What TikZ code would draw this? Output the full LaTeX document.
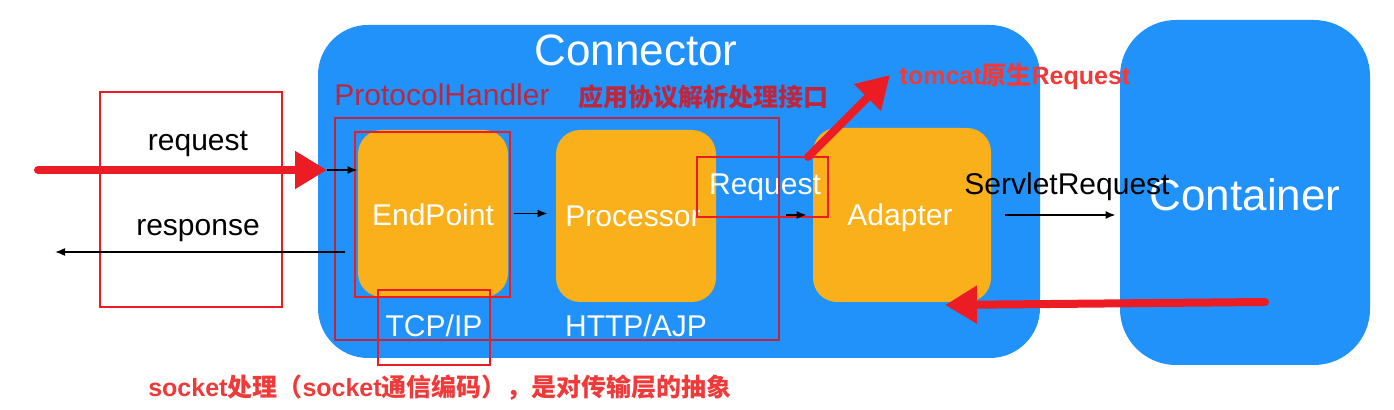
\documentclass[tikz,border=0pt]{standalone}
\usepackage{fontspec}
\setmainfont{Liberation Sans}
\newfontfamily\cjk{Noto Sans CJK SC}
\usepackage{tikz}
\usetikzlibrary{positioning, fit, arrows.meta}
\definecolor{boxblue}{RGB}{33,146,250}
\definecolor{boxorange}{RGB}{249,176,26}
\definecolor{markred}{RGB}{236,28,36}
\definecolor{darkred}{RGB}{190,38,62}
\definecolor{notered}{RGB}{240,58,58}
\tikzset{
  bigbox/.style={fill=boxblue,rounded corners=25pt,inner sep=0pt},
  part/.style={fill=boxorange,rounded corners=12pt,inner sep=0pt},
  redmark/.style={draw=markred,line width=1.3pt,inner sep=0pt},
  txt/.style={inner sep=0pt,font=\fontsize{15pt}{17pt}\selectfont},
  note/.style={inner sep=0pt,text=notered,font=\fontsize{12.5pt}{15pt}\selectfont\bfseries},
  thin arrow/.style={-{Latex[length=5pt,width=4pt]},line width=0.8pt},
  fat arrow/.style={-{Triangle[length=16pt,width=18pt]},draw=markred,line width=4pt}
}
\begin{document}
\begin{tikzpicture}[x=0.5pt,y=-0.5pt]
  \useasboundingbox (0,0) rectangle (1394,410);
  % blue boxes
  \node[bigbox,minimum width=361pt,minimum height=166.5pt] (conn) at (679,191.5) {};
  \node[bigbox,rounded corners=28pt,minimum width=125pt,minimum height=172.5pt] (cont) at (1245,192.5) {};
  \node[txt,text=white,font=\fontsize{22pt}{26pt}\selectfont] (conntitle) at (636,50) {Connector};
  \node[txt,text=white,font=\fontsize{22pt}{26pt}\selectfont] (conttitle) at (1245,195) {Container};
  % parts
  \node[part,minimum width=75pt,minimum height=83.5pt] (ep) at (433,213.5) {};
  \node[part,minimum width=80pt,minimum height=86pt] (proc) at (636,216) {};
  \node[part,minimum width=89pt,minimum height=87pt] (adap) at (902,215) {};
  \node[txt,text=white] (eptext) at (433,215) {EndPoint};
  \node[txt,text=white] (proctext) at (633,216) {Processor};
  \node[txt,text=white] (adaptext) at (900,218) {Adapter};
  \node[txt,text=white] (tcp) at (434,326) {TCP/IP};
  \node[txt,text=white] (http) at (636,326) {HTTP/AJP};
  \node[txt,text=white] (reqtext) at (765,187) {Request};
  % protocol handler
  \node[txt,text=darkred] (phtext) at (442,95) {ProtocolHandler};
  \node[note,text=darkred] (phnote) at (703,97) {\cjk\bfseries 应用协议解析处理接口};
  \node[draw=darkred,line width=0.9pt,inner sep=0pt,minimum width=222pt,minimum height=111pt] (ph) at (557,229) {};
  % red marks
  \node[redmark,minimum width=91pt,minimum height=107.5pt] (reqbox) at (191,199.5) {};
  \node[redmark,minimum width=77.5pt,minimum height=82.5pt] (epbox) at (432.5,214.5) {};
  \node[redmark,minimum width=65.5pt,minimum height=30pt] (rqbox) at (762.5,187) {};
  \node[redmark,minimum width=56pt,minimum height=37.5pt] (tcpbox) at (434,327.5) {};
  % texts
  \node[txt] (request) at (198,144) {request};
  \node[txt] (response) at (198,231) {response};
  \node[txt] (servlet) at (1067,187) {ServletRequest};
  \node[note] (tomcat) at (1015,76) {tomcat{\cjk\bfseries 原生}Request};
  \node[note] (socket) at (440,388) {socket{\cjk\bfseries 处理（}socket{\cjk\bfseries 通信编码），是对传输层的抽象}};
  % arrows
  \coordinate (in) at (38,170);
  \coordinate (inend) at (327,170);
  \coordinate (out) at (345,252);
  \coordinate (outend) at (55,252);
  \coordinate (back) at (1265,302);
  \coordinate (backend) at (945,305);
  \coordinate (up) at (808,157);
  \coordinate (upend) at (890,75);
  \draw[fat arrow,line cap=round] (in) -- (inend);
  \draw[thin arrow] (inend) -- (ep.west |- inend);
  \draw[thin arrow] (out) -- (outend);
  \draw[thin arrow,shorten <=3pt,shorten >=4pt] (ep) -- (proc.west |- ep);
  \draw[thin arrow,shorten <=35pt,shorten >=3pt] (proc.east |- adap) -- (adap);
  \draw[thin arrow,shorten <=7pt,shorten >=2pt] (adap) -- (cont.west |- adap);
  \draw[fat arrow,line cap=round] (back) -- (backend);
  \draw[fat arrow,line cap=round] (up) -- (upend);
\end{tikzpicture}
\end{document}
